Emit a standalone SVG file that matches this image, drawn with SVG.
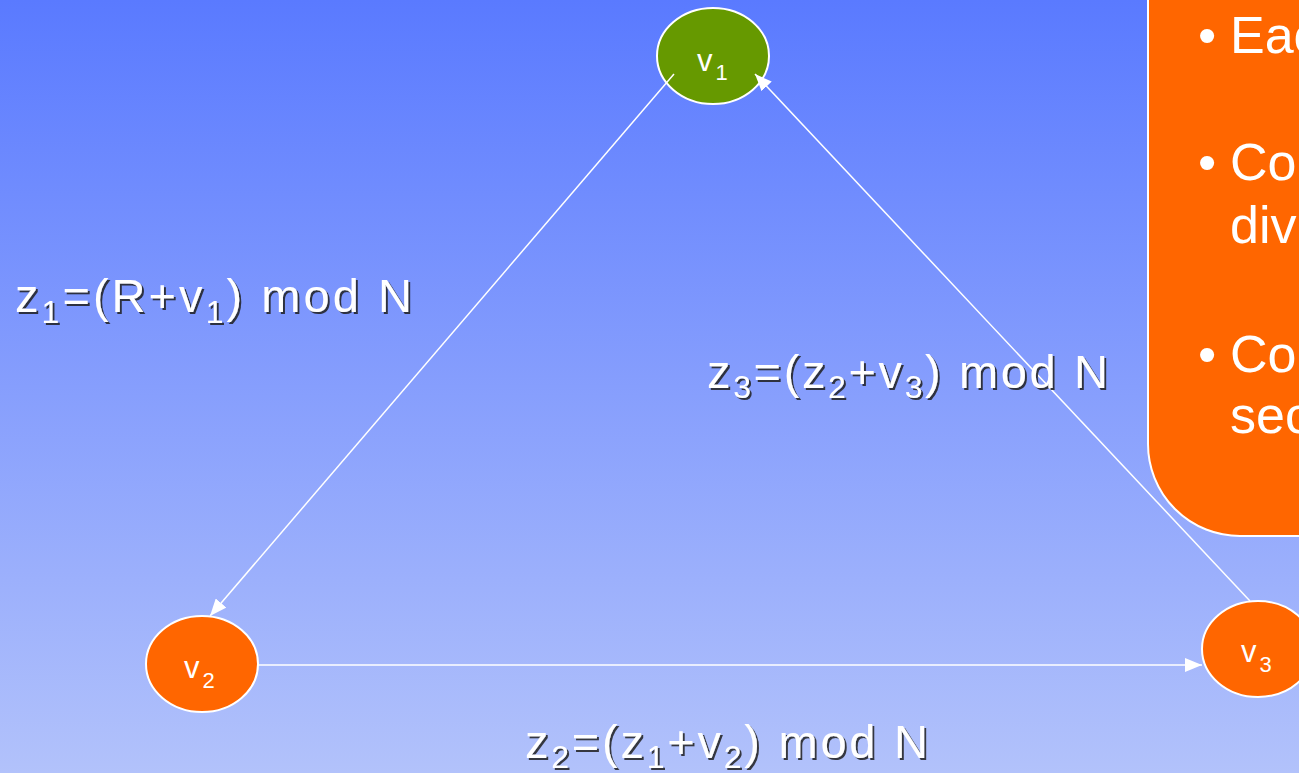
<svg xmlns="http://www.w3.org/2000/svg" width="1299" height="773" viewBox="0 0 1299 773">
<defs>
<linearGradient id="bg" x1="0" y1="0" x2="0" y2="1">
<stop offset="0" stop-color="#5a7aff"/>
<stop offset="1" stop-color="#b2c2fb"/>
</linearGradient>
<marker id="arr" viewBox="0 0 10 10" refX="10" refY="5" markerWidth="17" markerHeight="14" markerUnits="userSpaceOnUse" orient="auto" preserveAspectRatio="none">
<path d="M0,0 L10,5 L0,10 z" fill="#ffffff"/>
</marker>
<filter id="sh" x="-5%" y="-20%" width="110%" height="140%">
<feDropShadow dx="2" dy="2" stdDeviation="0.4" flood-color="#1a1a1a" flood-opacity="0.85"/>
</filter>
</defs>
<style>
.node{stroke:#ffffff;stroke-width:2}
.green{fill:#669900}
.orange{fill:#ff6600}
.nl{font-family:"Liberation Sans",Arial,sans-serif;font-size:31px;fill:#ffffff}
.f{font-family:"Liberation Sans",Arial,sans-serif;font-size:47px;fill:#ffffff;filter:url(#sh)}
.c{font-family:"Liberation Sans",Arial,sans-serif;font-size:52px;fill:#ffffff}
.edge{stroke:#ffffff;stroke-width:1.5;fill:none;marker-end:url(#arr)}
</style>
<rect x="0" y="0" width="1299" height="773" fill="url(#bg)"/>

<g id="callout">
<rect x="1148" y="-120" width="320" height="656" rx="92" ry="92" class="orange" stroke="#ffffff" stroke-width="2"/>
<text class="c" x="1207" y="53" text-anchor="middle" font-size="58">•</text>
<text class="c" x="1230" y="53">Eac</text>
<text class="c" x="1207" y="180" text-anchor="middle" font-size="58">•</text>
<text class="c" x="1230" y="180">Co</text>
<text class="c" x="1230" y="243">div</text>
<text class="c" x="1207" y="372" text-anchor="middle" font-size="58">•</text>
<text class="c" x="1230" y="372">Co</text>
<text class="c" x="1230" y="433">sec</text>
</g>

<g id="v1">
<ellipse class="node green" cx="713" cy="56" rx="56" ry="48"/>
<text class="nl" x="697" y="71">v<tspan font-size="22" dx="3" dy="9">1</tspan></text>
</g>
<g id="v2">
<ellipse class="node orange" cx="202" cy="664" rx="56" ry="48"/>
<text class="nl" x="184" y="678">v<tspan font-size="22" dx="3" dy="10">2</tspan></text>
</g>
<g id="v3">
<ellipse class="node orange" cx="1258" cy="649" rx="56" ry="48"/>
<text class="nl" x="1241" y="662">v<tspan font-size="22" dx="3" dy="10">3</tspan></text>
</g>

<g id="connectors">
<line class="edge" x1="674" y1="74" x2="210" y2="616"/>
<line class="edge" x1="258" y1="665" x2="1202" y2="665"/>
<line class="edge" x1="1250" y1="601" x2="755" y2="74"/>
</g>

<g id="labels">
<text class="f" x="15" y="312" textLength="397" lengthAdjust="spacing">z<tspan font-size="32" dy="11">1</tspan><tspan dy="-11">=(R+v</tspan><tspan font-size="32" dy="11">1</tspan><tspan dy="-11">) mod N</tspan></text>
<text class="f" x="707" y="388" textLength="401" lengthAdjust="spacing">z<tspan font-size="32" dy="10">3</tspan><tspan dy="-10">=(z</tspan><tspan font-size="32" dy="10">2</tspan><tspan dy="-10">+v</tspan><tspan font-size="32" dy="10">3</tspan><tspan dy="-10">) mod N</tspan></text>
<text class="f" x="525" y="758" textLength="403" lengthAdjust="spacing">z<tspan font-size="32" dy="10">2</tspan><tspan dy="-10">=(z</tspan><tspan font-size="32" dy="10">1</tspan><tspan dy="-10">+v</tspan><tspan font-size="32" dy="10">2</tspan><tspan dy="-10">) mod N</tspan></text>
</g>
</svg>
